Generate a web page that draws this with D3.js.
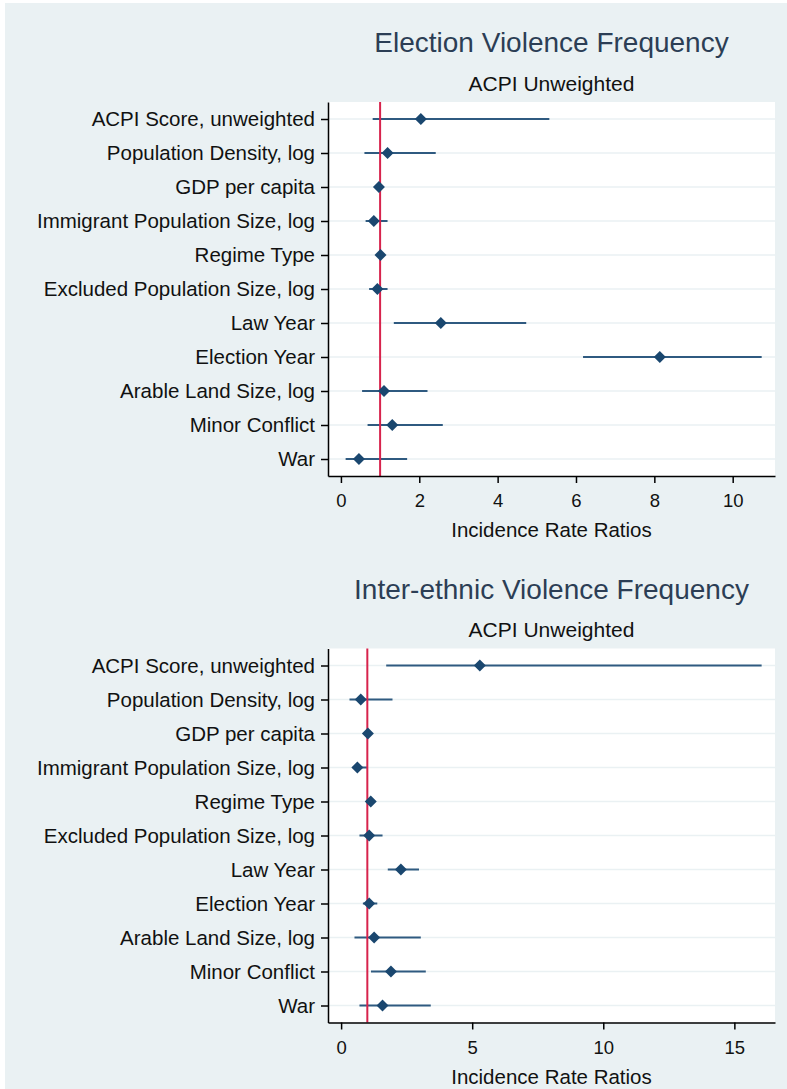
<!DOCTYPE html>
<html>
<head>
<meta charset="utf-8">
<script src="https://cdn.jsdelivr.net/npm/d3@7"></script>
<style>
  html, body { margin: 0; padding: 0; background: #ffffff; }
  svg { display: block; }
  text { font-family: "Liberation Sans", Arial, sans-serif; }
</style>
</head>
<body>
<svg id="chart" width="787" height="1089"></svg>
<script>
// Regressors, listed top to bottom
const variables = [
  "ACPI Score, unweighted",
  "Population Density, log",
  "GDP per capita",
  "Immigrant Population Size, log",
  "Regime Type",
  "Excluded Population Size, log",
  "Law Year",
  "Election Year",
  "Arable Land Size, log",
  "Minor Conflict",
  "War"
];

// Election violence frequency: incidence rate ratios with 95% CIs
const electionIRR   = [2.04, 1.19, 0.97, 0.84, 1.01, 0.93, 2.55, 8.14, 1.10, 1.31, 0.46];
const electionLower = [0.81, 0.60, 0.95, 0.63, 0.98, 0.72, 1.35, 6.18, 0.54, 0.68, 0.12];
const electionUpper = [5.32, 2.42, 1.00, 1.19, 1.05, 1.19, 4.73, 10.74, 2.21, 2.60, 1.69];
const electionTicks = [0, 2, 4, 6, 8, 10];

// Inter-ethnic violence frequency: incidence rate ratios with 95% CIs
const ethnicIRR   = [5.29, 0.75, 1.02, 0.62, 1.13, 1.07, 2.28, 1.07, 1.26, 1.90, 1.58];
const ethnicLower = [1.72, 0.32, 0.98, 0.45, 1.05, 0.70, 1.78, 0.83, 0.51, 1.14, 0.70];
const ethnicUpper = [16.04, 1.96, 1.06, 1.02, 1.20, 1.58, 2.97, 1.38, 3.04, 3.23, 3.42];
const ethnicTicks = [0, 5, 10, 15];

const panelTitles = ["Election Violence Frequency", "Inter-ethnic Violence Frequency"];
const panelSubtitle = "ACPI Unweighted";
const axisTitle = "Incidence Rate Ratios";

const svg = d3.select("#chart");

// figure background
svg.append("rect")
  .attr("x", 5).attr("y", 3)
  .attr("width", 782).attr("height", 1086)
  .attr("fill", "#eaf1f3");

const plotLeft = 328, plotRight = 775;

function drawPanel(offsetY, title, est, lo, hi, ticks, xDomain) {
  const top = 102 + offsetY, bottom = 476 + offsetY;
  const g = svg.append("g");

  const x = d3.scaleLinear().domain(xDomain).range([plotLeft, plotRight]);
  const y = d3.scalePoint().domain(variables).range([top, bottom]).padding(0.5);

  const rows = variables.map((v, i) => ({ name: v, est: est[i], lo: lo[i], hi: hi[i] }));

  // titles
  g.append("text")
    .attr("x", (plotLeft + plotRight) / 2).attr("y", 52 + offsetY)
    .attr("text-anchor", "middle")
    .attr("font-size", 28).attr("fill", "#2c3e55")
    .text(title);
  g.append("text")
    .attr("x", (plotLeft + plotRight) / 2).attr("y", 90.5 + offsetY)
    .attr("text-anchor", "middle")
    .attr("font-size", 21).attr("fill", "#111")
    .text(panelSubtitle);

  // plot region
  g.append("rect")
    .attr("x", plotLeft).attr("y", top)
    .attr("width", plotRight - plotLeft).attr("height", bottom - top)
    .attr("fill", "#ffffff");

  // horizontal grid lines at each regressor
  g.append("g").selectAll("line").data(rows).join("line")
    .attr("x1", plotLeft).attr("x2", plotRight)
    .attr("y1", d => y(d.name)).attr("y2", d => y(d.name))
    .attr("stroke", "#eaf1f3").attr("stroke-width", 1.6);

  // confidence intervals
  g.append("g").selectAll("line").data(rows).join("line")
    .attr("x1", d => x(d.lo)).attr("x2", d => x(d.hi))
    .attr("y1", d => y(d.name)).attr("y2", d => y(d.name))
    .attr("stroke", "#2f5a80").attr("stroke-width", 2);

  // reference line at IRR = 1
  g.append("line")
    .attr("x1", x(1)).attr("x2", x(1))
    .attr("y1", top).attr("y2", bottom)
    .attr("stroke", "#d7234c").attr("stroke-width", 2);

  // point estimates (diamonds)
  const diamond = d3.symbol().type(d3.symbolSquare).size(72);
  g.append("g").selectAll("path").data(rows).join("path")
    .attr("d", diamond)
    .attr("transform", d => `translate(${x(d.est)},${y(d.name)}) rotate(45)`)
    .attr("fill", "#1a476f");

  // y axis
  const yAxis = g.append("g")
    .attr("transform", `translate(${plotLeft},0)`)
    .call(d3.axisLeft(y).tickSize(7).tickSizeOuter(0).tickPadding(6));
  yAxis.selectAll("text").attr("font-size", 20.5).attr("fill", "#111");

  // x axis
  const xAxis = g.append("g")
    .attr("transform", `translate(0,${bottom})`)
    .call(d3.axisBottom(x).tickValues(ticks).tickFormat(d3.format("d"))
      .tickSize(7).tickSizeOuter(0).tickPadding(11));
  xAxis.selectAll("text").attr("font-size", 18.5).attr("fill", "#111");

  [yAxis, xAxis].forEach(a => {
    a.select(".domain").attr("stroke", "#000").attr("stroke-width", 1.5);
    a.selectAll(".tick line").attr("stroke", "#000").attr("stroke-width", 1.5);
  });

  g.append("text")
    .attr("x", (plotLeft + plotRight) / 2).attr("y", 537 + offsetY)
    .attr("text-anchor", "middle")
    .attr("font-size", 20.5).attr("fill", "#111")
    .text(axisTitle);
}

drawPanel(0, panelTitles[0], electionIRR, electionLower, electionUpper, electionTicks, [-0.33, 11.08]);
drawPanel(546.5, panelTitles[1], ethnicIRR, ethnicLower, ethnicUpper, ethnicTicks, [-0.5, 16.55]);
</script>
</body>
</html>
